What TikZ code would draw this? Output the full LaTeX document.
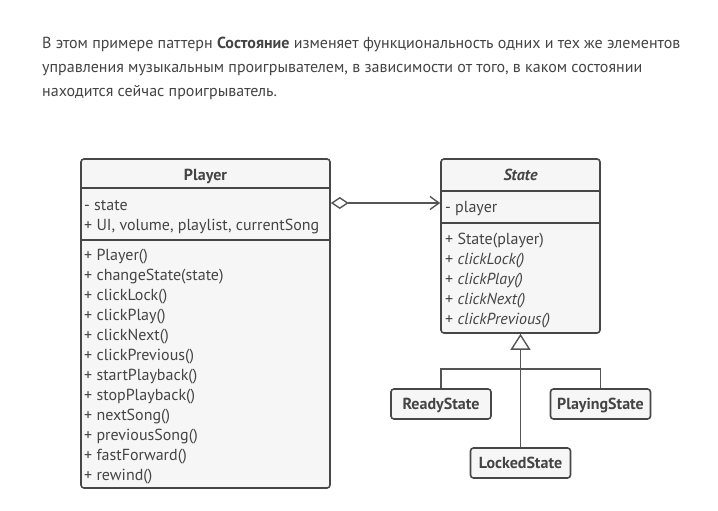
\documentclass[tikz,border=0pt]{standalone}
\usepackage{fontspec}
\setmainfont{PT Sans}
\usetikzlibrary{arrows.meta}
\definecolor{txt}{HTML}{444444}
\definecolor{edge}{HTML}{474747}
\definecolor{boxfill}{HTML}{F6F6F6}
\definecolor{linkgray}{HTML}{555555}
\tikzset{
  classbox/.style={draw=edge, fill=boxfill, line width=1.6pt, rounded corners=3pt, inner sep=0pt},
  sepline/.style={draw=edge, line width=1.6pt},
  para/.style={anchor=base west, inner sep=0pt, text=txt, font=\fontsize{16}{19}\selectfont},
  member/.style={anchor=base west, inner sep=0pt, text=txt, font=\fontsize{16}{18}\selectfont},
  title/.style={anchor=base, inner sep=0pt, text=txt, font=\fontsize{16}{18}\selectfont\bfseries},
  link/.style={draw=linkgray, line width=1.4pt},
}
\begin{document}
\begin{tikzpicture}[x=1pt,y=-1pt]
\useasboundingbox (0,0) rectangle (718,511);
% text above the diagram
\node[para] (line1) at (42,49) {В этом примере паттерн \textbf{Состояние} изменяет функциональность одних и тех же элементов};
\node[para] (line2) at (42,73) {управления музыкальным проигрывателем, в зависимости от того, в каком состоянии};
\node[para] (line3) at (42,96) {находится сейчас проигрыватель.};

% Player
\node[classbox, minimum width=249pt, minimum height=329pt] (player) at (205.5,323.5) {};
\draw[sepline] (player.west |- 0,188) -- (player.east |- 0,188);
\draw[sepline] (player.west |- 0,240) -- (player.east |- 0,240);
\node[title] (playername) at (205.5,180.5) {Player};
\node[member] (pa1) at (84,210) {- state};
\node[member] (pa2) at (84,230.5) {+ UI, volume, playlist, currentSong};
\foreach \m [count=\i] in {{Player()},{changeState(state)},{clickLock()},{clickPlay()},
  {clickNext()},{clickPrevious()},{startPlayback()},{stopPlayback()},{nextSong()},
  {previousSong()},{fastForward()},{rewind()}}{
  \node[member] (pm\i) at (84,240.5+20*\i) {+ \m};
}

% State
\node[classbox, minimum width=159pt, minimum height=174pt] (state) at (520.5,246) {};
\draw[sepline] (state.west |- 0,191) -- (state.east |- 0,191);
\draw[sepline] (state.west |- 0,223) -- (state.east |- 0,223);
\node[title] (statename) at (520.5,180.5) {\itshape State};
\node[member] (sa1) at (445,212.5) {- player};
\node[member] (sm1) at (445,244.5) {+ State(player)};
\foreach \m [count=\i from 2] in {{clickLock()},{clickPlay()},{clickNext()},{clickPrevious()}}{
  \node[member] (sm\i) at (445,224.5+20*\i) {+ \textit{\m}};
}

% concrete states
\node[classbox, minimum width=100pt, minimum height=30pt] (ready) at (441,404) {};
\node[title] (readyname) at (441,409.5) {ReadyState};
\node[classbox, minimum width=100pt, minimum height=30pt] (playing) at (600.5,404) {};
\node[title] (playingname) at (600.5,409.5) {PlayingState};
\node[classbox, minimum width=100pt, minimum height=30pt] (locked) at (520.5,463) {};
\node[title] (lockedname) at (520.5,468.5) {LockedState};

% connectors
\draw[link, {Diamond[open, length=18pt, width=12pt]}-{Straight Barb[length=9pt, width=13pt]}]
  (player.east |- 0,203) -- (state.west |- 0,203);
\coordinate (fork) at (state.south |- 0,369);
\draw[link] (ready.north) |- (fork) -| (playing.north);
\draw[link, -{Triangle[open, length=16pt, width=20pt]}] (locked.north) -- (state.south);
\end{tikzpicture}
\end{document}
